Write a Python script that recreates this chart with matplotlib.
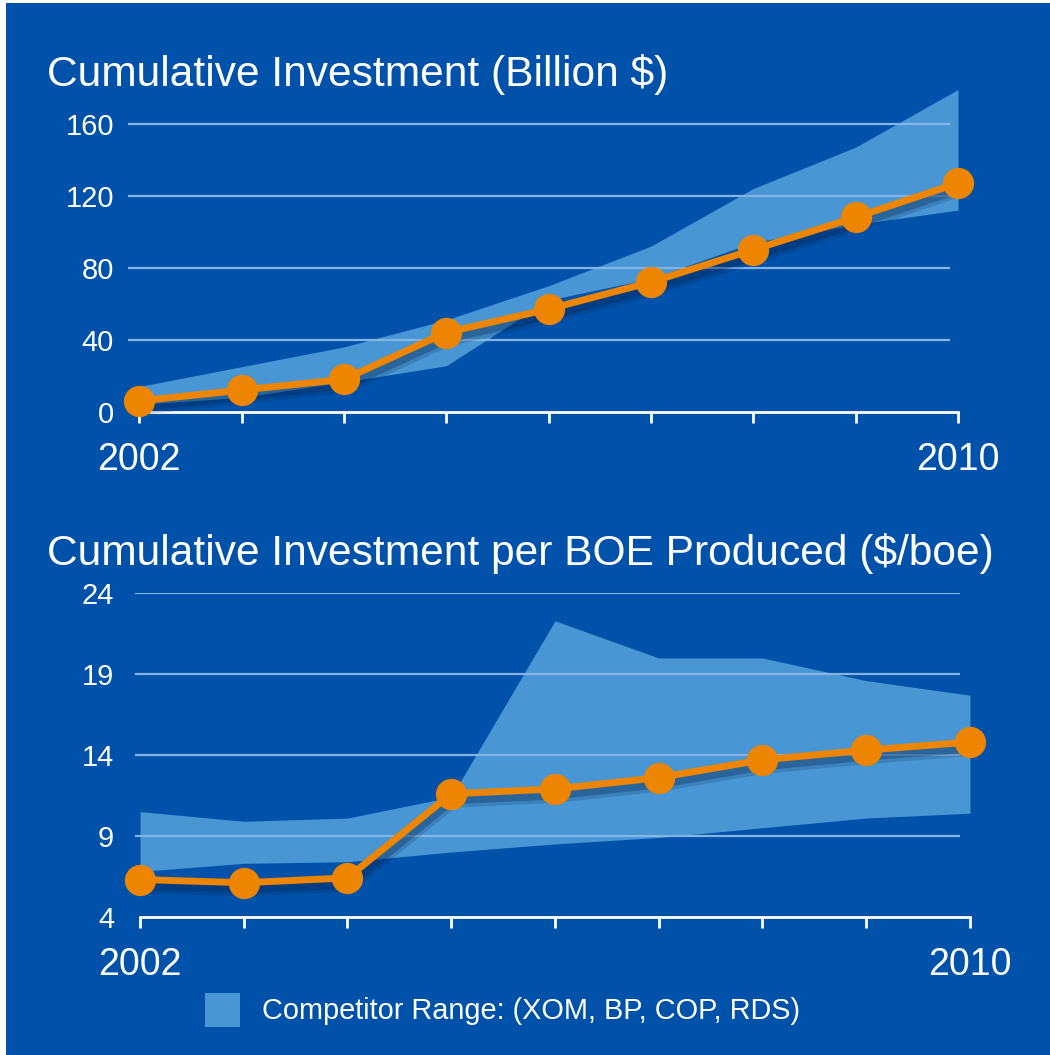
import matplotlib
matplotlib.use("Agg")
import matplotlib.pyplot as plt
import matplotlib.patheffects as pe
from matplotlib.patches import Rectangle

plt.rcParams['font.family'] = ['Liberation Sans', 'DejaVu Sans']

years = [2002, 2003, 2004, 2005, 2006, 2007, 2008, 2009, 2010]

# cumulative investment, billion $
invest = [6, 12, 18, 44, 57, 72, 90, 108, 127]
invest_lo = [4, 8, 16.5, 25.5, 62, 74, 94, 104, 112]
invest_hi = [14, 25, 36, 51, 70, 92, 124, 147, 179]

# cumulative investment per boe produced, $/boe
per_boe = [6.3, 6.1, 6.4, 11.6, 11.9, 12.6, 13.7, 14.3, 14.8]
per_boe_lo = [6.8, 7.3, 7.4, 8.0, 8.5, 8.9, 9.5, 10.1, 10.4]
per_boe_hi = [10.5, 9.9, 10.1, 11.4, 22.3, 20.0, 20.0, 18.6, 17.7]

invest_ticks = [0, 40, 80, 120, 160]
boe_ticks = [4, 9, 14, 19, 24]

BG = '#0051aa'
BAND = '#4896d4'
ORANGE = '#ee8500'
GRID = '#86b4e2'

fig = plt.figure(figsize=(10.5, 10.55), dpi=100, facecolor='white')
fig.patches.append(Rectangle((6 / 1050, 0), 1, 1 - 3 / 1055, transform=fig.transFigure,
                             facecolor=BG, edgecolor='none', zorder=-5))

# soft drop shadow under the orange line
shadow = [pe.SimpleLineShadow(offset=(1, -4), shadow_color='#00224f', alpha=0.18,
                              linewidth=12),
          pe.SimpleLineShadow(offset=(1, -4), shadow_color='#00224f', alpha=0.3,
                              linewidth=7),
          pe.Normal()]


def panel(rect, xlim, ylim, ticks, grid_end, y, lo, hi, ypad):
    ax = fig.add_axes(rect)
    ax.set_facecolor('none')
    ax.set_xlim(*xlim)
    ax.set_ylim(*ylim)
    ax.fill_between(years, lo, hi, color=BAND, lw=0, zorder=1)
    ax.hlines(ticks[1:], xlim[0], grid_end, color=GRID, lw=1.6, zorder=2)
    ax.plot(years, y, color=ORANGE, lw=5, zorder=3, clip_on=False,
            solid_capstyle='round', path_effects=shadow)
    ax.plot(years, y, ls='none', marker='o', ms=21.5, color=ORANGE, mec=ORANGE,
            zorder=4, clip_on=False)
    for s in ['top', 'right', 'left']:
        ax.spines[s].set_visible(False)
    ax.spines['bottom'].set_color('white')
    ax.spines['bottom'].set_linewidth(2)
    ax.spines['bottom'].set_bounds(years[0], years[-1])
    ax.set_yticks(ticks)
    ax.set_yticklabels([str(t) for t in ticks])
    ax.set_xticks(years)
    ax.set_xticklabels([str(years[0])] + [''] * (len(years) - 2) + [str(years[-1])])
    ax.tick_params(axis='y', length=0, pad=ypad, labelsize=21, labelcolor='white')
    ax.tick_params(axis='x', direction='out', length=8, width=2, color='white',
                   pad=14, labelsize=27, labelcolor='white')
    return ax


panel([128 / 1050, 1 - 411.7 / 1055, 847 / 1050, 324 / 1055],
      (2001.89, 2010.166), (0, 180), invest_ticks, 2009.92,
      invest, invest_lo, invest_hi, 10)

panel([135 / 1050, 1 - 916.7 / 1055, 850 / 1050, 323.4 / 1055],
      (2001.952, 2010.145), (4, 24), boe_ticks, 2009.904,
      per_boe, per_boe_lo, per_boe_hi, 15)

fig.text(47 / 1050, 1 - 86 / 1055, 'Cumulative Investment (Billion $)',
         color='white', fontsize=30.6, va='baseline', ha='left')
fig.text(47 / 1050, 1 - 565 / 1055, 'Cumulative Investment per BOE Produced ($/boe)',
         color='white', fontsize=30.6, va='baseline', ha='left')

# legend
fig.patches.append(Rectangle((205 / 1050, 1 - 1027 / 1055), 35 / 1050, 34 / 1055,
                             transform=fig.transFigure, facecolor=BAND,
                             edgecolor='none', zorder=1))
fig.text(262 / 1050, 1 - 1011 / 1055, 'Competitor Range: (XOM, BP, COP, RDS)',
         color='white', fontsize=20.8, va='center', ha='left')

fig.savefig('out.png', dpi=100, facecolor=fig.get_facecolor())
